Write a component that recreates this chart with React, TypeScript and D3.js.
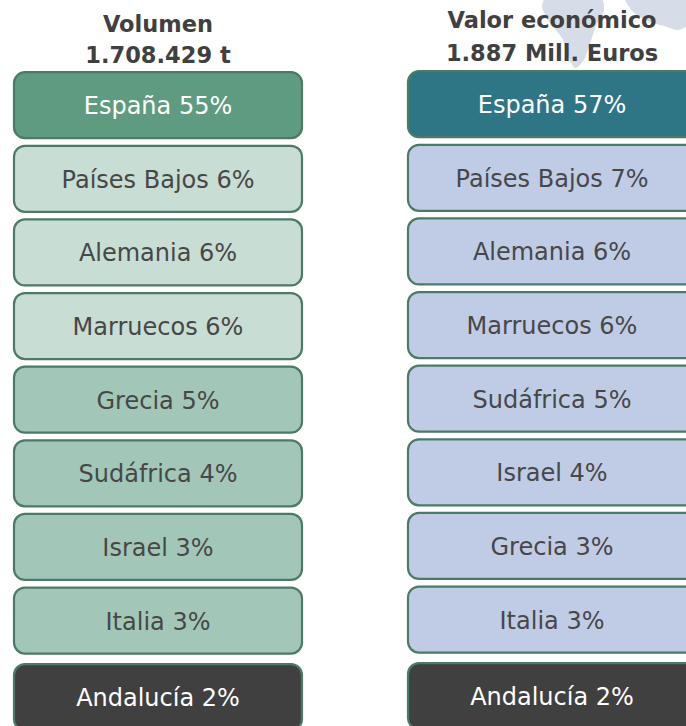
import React from "react";
import * as d3 from "d3";

const volumeTitle = ["Volumen", "1.708.429 t"];
const valueTitle = ["Valor económico", "1.887 Mill. Euros"];

const volumeLabels = ["España", "Países Bajos", "Alemania", "Marruecos", "Grecia", "Sudáfrica", "Israel", "Italia", "Andalucía"];
const volumeShares = [55, 6, 6, 6, 5, 4, 3, 3, 2];
const volumeTiers = ["lead", "light", "light", "light", "mid", "mid", "mid", "mid", "region"];

const valueLabels = ["España", "Países Bajos", "Alemania", "Marruecos", "Sudáfrica", "Israel", "Grecia", "Italia", "Andalucía"];
const valueShares = [57, 7, 6, 6, 5, 4, 3, 3, 2];
const valueTiers = ["lead", "light", "light", "light", "light", "light", "light", "light", "region"];

const W = 686;
const H = 726;

const volumeFill: Record<string, string> = {
  lead: "#5f9b80",
  light: "#c8ddd4",
  mid: "#a2c7b9",
  region: "#404040",
};
const valueFill: Record<string, string> = {
  lead: "#2e7586",
  light: "#c0cce6",
  mid: "#c0cce6",
  region: "#404040",
};

// decorative faint world-map blobs (background)
const blobA: [number, number][] = [
  [550, -4], [598, -4], [604, 10], [596, 26], [590, 44], [584, 60], [575, 68], [568, 56], [562, 38], [548, 20], [542, 6],
];
const blobB: [number, number][] = [
  [628, -4], [690, -4], [690, 22], [678, 30], [664, 26], [650, 22], [638, 16], [630, 8],
];

function Column({ x, width, yTop, labels, shares, tiers, fills, title, titleBaselines }: any) {
  const y = d3
    .scaleBand<number>()
    .domain(d3.range(labels.length))
    .range([yTop, yTop + labels.length * 73.6])
    .paddingInner(0.103)
    .paddingOuter(0.05);
  const cx = x + width / 2;
  return (
    <g>
      {title.map((t: string, i: number) => (
        <text
          key={t}
          x={cx}
          y={titleBaselines[i]}
          textAnchor="middle"
          fontFamily="DejaVu Sans, sans-serif"
          fontWeight="bold"
          fontSize={22.5}
          fill="#404040"
        >
          {t}
        </text>
      ))}
      {labels.map((lab: string, i: number) => {
        const tier = tiers[i];
        const extra = tier === "region" ? 3 : 0;
        const top = (y(i) as number) + extra;
        const bh = y.bandwidth();
        const dark = tier === "lead" || tier === "region";
        return (
          <g key={lab}>
            <rect
              x={x}
              y={top}
              width={width}
              height={bh}
              rx={11}
              ry={11}
              fill={fills[tier]}
              stroke="#4b7a65"
              strokeWidth={2.2}
            />
            <text
              x={cx}
              y={top + bh / 2 + 1}
              textAnchor="middle"
              dominantBaseline="central"
              fontFamily="DejaVu Sans, sans-serif"
              fontSize={24}
              fill={dark ? "#ffffff" : "#474747"}
            >
              {`${lab} ${shares[i]}%`}
            </text>
          </g>
        );
      })}
    </g>
  );
}

export default function App() {
  const blob = d3.line().curve(d3.curveCardinalClosed.tension(0.3));
  return (
    <svg width={W} height={H} style={{ position: "absolute", left: 0, top: 0, background: "#ffffff" }}>
      <rect x={0} y={0} width={W} height={H} fill="#ffffff" />
      <path d={blob(blobA) || ""} fill="#d6dde8" />
      <path d={blob(blobB) || ""} fill="#d6dde8" />
      <Column
        x={14}
        width={288}
        yTop={68.5}
        labels={volumeLabels}
        shares={volumeShares}
        tiers={volumeTiers}
        fills={volumeFill}
        title={volumeTitle}
        titleBaselines={[32, 63]}
      />
      <Column
        x={408}
        width={288}
        yTop={67.5}
        labels={valueLabels}
        shares={valueShares}
        tiers={valueTiers}
        fills={valueFill}
        title={valueTitle}
        titleBaselines={[28, 61]}
      />
    </svg>
  );
}
